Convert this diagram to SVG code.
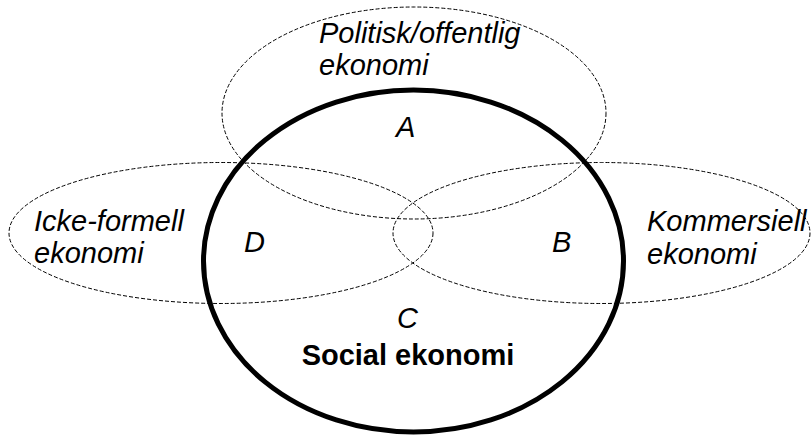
<svg xmlns="http://www.w3.org/2000/svg" width="811" height="436" viewBox="0 0 811 436">
<style>
.dash{fill:none;stroke:#000;stroke-width:1;stroke-dasharray:4 2}
.main{fill:none;stroke:#000;stroke-width:5}
.lbl{font-family:"Liberation Sans",Arial,sans-serif;font-size:29px;font-style:italic;fill:#000}
.bold{font-family:"Liberation Sans",Arial,sans-serif;font-size:29px;font-weight:bold;fill:#000}
</style>
<rect width="811" height="436" fill="#fff"/>
<g id="politisk">
<ellipse class="dash" cx="414" cy="113" rx="192" ry="106"/>
<text class="lbl" x="319" y="43">Politisk/offentlig</text>
<text class="lbl" x="319" y="75">ekonomi</text>
</g>
<g id="icke-formell">
<ellipse class="dash" cx="221" cy="233" rx="212" ry="70.5"/>
<text class="lbl" x="34" y="231">Icke-formell</text>
<text class="lbl" x="34" y="263">ekonomi</text>
</g>
<g id="kommersiell">
<ellipse class="dash" cx="601.5" cy="233" rx="208.5" ry="70.5"/>
<text class="lbl" x="647" y="231">Kommersiell</text>
<text class="lbl" x="647" y="264">ekonomi</text>
</g>
<g id="social">
<ellipse class="main" cx="413.5" cy="261" rx="210" ry="171"/>
<text class="bold" x="408" y="365" text-anchor="middle">Social ekonomi</text>
</g>
<g id="regions">
<text class="lbl" x="396" y="137">A</text>
<text class="lbl" x="552" y="252">B</text>
<text class="lbl" x="397" y="328">C</text>
<text class="lbl" x="244" y="252">D</text>
</g>
<g id="connectors"></g>
</svg>
